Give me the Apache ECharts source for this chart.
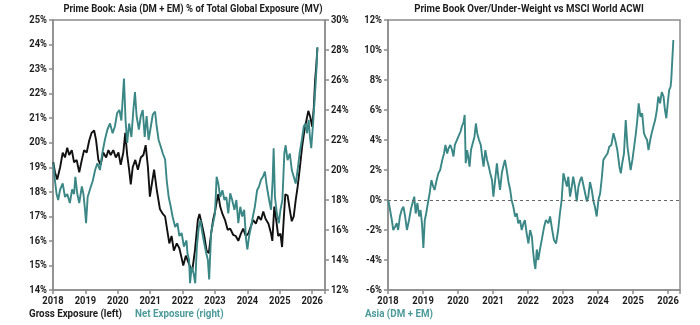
<!DOCTYPE html>
<html>
<head>
<meta charset="utf-8">
<script src="https://cdn.jsdelivr.net/npm/echarts@6/dist/echarts.min.js"></script>
<style>
  html, body { margin: 0; padding: 0; background: #fff; }
  #chart { width: 700px; height: 325px; }
</style>
</head>
<body>
<div id="chart"></div>
<script>
// Prime book Asia exposure, [decimal year, %]
const grossExposure = [
  [2018.01,19.2],[2018.06,18.8],[2018.13,18.5],[2018.22,19.0],[2018.30,19.6],[2018.37,19.4],[2018.44,19.8],
  [2018.50,19.5],[2018.58,19.7],[2018.65,19.2],[2018.73,19.3],[2018.81,18.8],[2018.89,19.3],[2018.96,19.7],
  [2019.04,19.6],[2019.12,20.1],[2019.19,20.4],[2019.27,20.5],[2019.33,20.1],[2019.40,19.3],[2019.47,19.1],
  [2019.55,19.6],[2019.64,19.4],[2019.71,19.7],[2019.78,19.5],[2019.86,19.7],[2019.94,19.4],[2020.02,19.6],
  [2020.09,19.1],[2020.17,19.6],[2020.23,20.4],[2020.29,19.5],[2020.35,18.9],[2020.40,18.3],[2020.46,19.0],
  [2020.54,19.3],[2020.62,18.9],[2020.71,19.4],[2020.79,19.5],[2020.86,19.9],[2020.93,19.0],[2020.99,17.8],
  [2021.06,18.4],[2021.12,18.9],[2021.20,18.1],[2021.30,17.3],[2021.39,17.1],[2021.46,17.0],[2021.53,16.4],
  [2021.59,15.9],[2021.66,16.2],[2021.73,15.6],[2021.82,15.9],[2021.90,15.7],[2021.97,15.3],[2022.02,15.0],
  [2022.10,15.4],[2022.23,14.95],[2022.30,14.8],[2022.38,15.6],[2022.47,16.85],[2022.52,17.1],[2022.59,16.7],
  [2022.67,16.2],[2022.74,15.6],[2022.81,15.5],[2022.88,16.3],[2022.94,16.85],[2023.00,17.2],[2023.06,17.65],
  [2023.10,17.9],[2023.16,17.4],[2023.23,17.1],[2023.31,16.85],[2023.39,16.45],[2023.47,16.5],[2023.56,16.25],
  [2023.64,16.2],[2023.72,16.0],[2023.80,16.3],[2023.87,16.5],[2023.95,16.2],[2024.03,16.3],[2024.11,16.6],
  [2024.18,16.85],[2024.26,16.7],[2024.34,17.0],[2024.42,16.85],[2024.49,17.2],[2024.56,16.9],[2024.65,16.7],
  [2024.73,16.3],[2024.77,16.0],[2024.83,17.4],[2024.89,16.85],[2024.95,16.2],[2025.02,16.3],[2025.07,15.75],
  [2025.12,16.85],[2025.17,17.9],[2025.24,17.85],[2025.31,17.25],[2025.37,16.8],[2025.43,17.0],[2025.49,17.65],
  [2025.55,18.2],[2025.62,19.0],[2025.69,19.85],[2025.76,20.5],[2025.82,20.9],[2025.88,21.3],[2025.94,21.05],
  [2026.00,20.65],[2026.05,21.45],[2026.09,22.55],[2026.13,23.2],[2026.16,23.85]
];

const netExposure = [
  [2018.01,20.45],[2018.06,19.3],[2018.11,18.4],[2018.16,18.0],[2018.22,18.7],[2018.30,19.1],[2018.37,18.2],
  [2018.44,18.4],[2018.52,17.8],[2018.59,18.7],[2018.65,18.4],[2018.69,19.55],[2018.75,18.4],[2018.81,17.8],
  [2018.89,18.9],[2018.94,18.4],[2018.99,17.3],[2019.02,16.45],[2019.07,18.2],[2019.14,18.7],[2019.23,19.3],
  [2019.30,20.0],[2019.37,20.45],[2019.45,20.0],[2019.52,21.1],[2019.60,22.0],[2019.68,22.7],[2019.76,23.1],
  [2019.84,22.45],[2019.91,22.9],[2019.98,23.8],[2020.05,24.0],[2020.11,23.3],[2020.15,24.7],[2020.19,26.1],
  [2020.24,23.3],[2020.29,21.8],[2020.35,23.1],[2020.42,22.2],[2020.48,24.0],[2020.53,25.2],[2020.58,23.6],
  [2020.65,22.7],[2020.71,23.6],[2020.77,24.0],[2020.83,22.2],[2020.89,23.6],[2020.95,22.0],[2021.02,22.9],
  [2021.08,23.7],[2021.15,23.9],[2021.20,22.9],[2021.26,22.0],[2021.32,21.6],[2021.39,21.1],[2021.46,20.7],
  [2021.51,19.3],[2021.57,18.2],[2021.63,17.6],[2021.69,16.9],[2021.77,16.2],[2021.84,16.45],[2021.90,15.6],
  [2021.97,15.8],[2022.04,14.9],[2022.12,15.3],[2022.15,14.45],[2022.20,14.0],[2022.23,12.45],[2022.28,13.55],
  [2022.34,13.1],[2022.39,12.45],[2022.44,14.9],[2022.50,16.2],[2022.55,16.65],[2022.61,15.8],[2022.67,15.1],
  [2022.73,14.45],[2022.78,14.0],[2022.82,12.7],[2022.88,15.8],[2022.94,16.45],[2023.00,17.1],[2023.05,19.55],
  [2023.10,19.1],[2023.16,18.2],[2023.23,18.65],[2023.29,18.0],[2023.35,18.2],[2023.41,17.1],[2023.47,18.45],
  [2023.53,18.0],[2023.60,17.35],[2023.66,18.0],[2023.72,16.45],[2023.78,17.55],[2023.84,16.9],[2023.90,17.35],
  [2023.96,15.35],[2024.00,14.7],[2024.05,15.55],[2024.11,16.2],[2024.17,16.9],[2024.23,17.55],[2024.30,18.65],
  [2024.36,18.9],[2024.42,19.35],[2024.48,19.55],[2024.54,19.9],[2024.60,18.9],[2024.67,18.0],[2024.73,17.35],
  [2024.78,19.35],[2024.81,21.45],[2024.85,18.2],[2024.91,17.1],[2024.97,16.45],[2025.02,17.35],[2025.08,18.0],
  [2025.14,21.1],[2025.18,21.65],[2025.24,20.65],[2025.31,21.1],[2025.37,20.0],[2025.43,19.55],[2025.49,19.1],
  [2025.55,20.0],[2025.61,21.1],[2025.68,22.0],[2025.74,22.9],[2025.79,23.1],[2025.84,22.45],[2025.89,23.35],
  [2025.93,22.2],[2025.97,21.45],[2026.02,22.9],[2026.06,24.2],[2026.10,25.55],[2026.13,26.65],[2026.16,28.2]
];

// Over/under-weight of Asia (DM + EM) against MSCI World ACWI, [decimal year, %]
const asiaOverweight = [
  [2018.01,0.0],[2018.05,-0.55],[2018.11,-1.35],[2018.15,-2.0],[2018.20,-1.8],[2018.25,-1.55],[2018.29,-2.0],
  [2018.34,-1.1],[2018.39,-0.67],[2018.44,-0.45],[2018.49,-1.1],[2018.54,-2.0],[2018.60,-1.35],[2018.66,-0.55],
  [2018.71,-0.45],[2018.75,0.22],[2018.79,-0.9],[2018.84,-0.2],[2018.89,-1.1],[2018.93,-0.67],[2018.97,-1.55],
  [2019.01,-3.2],[2019.05,-1.35],[2019.09,-0.9],[2019.14,-0.2],[2019.19,0.45],[2019.24,1.33],[2019.29,0.9],
  [2019.33,0.67],[2019.39,1.33],[2019.44,1.78],[2019.49,2.0],[2019.55,2.67],[2019.60,3.1],[2019.64,3.67],
  [2019.69,3.1],[2019.73,3.45],[2019.78,3.67],[2019.83,3.33],[2019.87,2.9],[2019.91,3.67],[2019.96,3.78],
  [2020.01,4.22],[2020.07,4.55],[2020.11,4.9],[2020.16,5.2],[2020.19,5.67],[2020.22,2.45],[2020.26,3.33],
  [2020.29,2.9],[2020.33,2.22],[2020.37,3.33],[2020.42,3.78],[2020.47,4.22],[2020.51,5.1],[2020.55,4.44],
  [2020.60,4.0],[2020.65,3.67],[2020.69,2.9],[2020.73,2.22],[2020.78,3.33],[2020.83,2.67],[2020.88,2.22],
  [2020.92,1.78],[2020.97,1.33],[2021.01,0.22],[2021.06,1.33],[2021.11,2.45],[2021.15,1.55],[2021.20,0.67],
  [2021.25,1.78],[2021.29,2.22],[2021.34,2.67],[2021.39,2.0],[2021.44,1.22],[2021.49,0.67],[2021.53,0.0],
  [2021.58,-0.45],[2021.63,-1.1],[2021.68,-0.9],[2021.72,-1.55],[2021.77,-1.35],[2021.82,-2.0],[2021.87,-1.55],
  [2021.91,-1.35],[2021.96,-2.22],[2022.01,-2.9],[2022.06,-2.0],[2022.11,-2.45],[2022.14,-3.33],[2022.18,-4.2],
  [2022.21,-4.6],[2022.25,-3.3],[2022.29,-4.0],[2022.34,-3.3],[2022.39,-2.67],[2022.46,-1.78],[2022.51,-1.33],
  [2022.58,-1.55],[2022.63,-1.1],[2022.69,-2.0],[2022.74,-2.67],[2022.80,-2.9],[2022.86,-2.0],[2022.91,-0.9],
  [2022.96,0.0],[2023.01,1.78],[2023.06,1.33],[2023.11,0.9],[2023.15,1.55],[2023.20,0.22],[2023.25,0.9],
  [2023.29,1.55],[2023.34,0.9],[2023.39,-0.1],[2023.44,0.9],[2023.49,1.33],[2023.53,1.55],[2023.58,1.45],
  [2023.63,0.45],[2023.68,-0.1],[2023.72,0.22],[2023.77,1.2],[2023.82,0.67],[2023.87,-0.1],[2023.91,-0.45],
  [2023.96,-1.1],[2024.01,0.0],[2024.06,0.45],[2024.11,1.55],[2024.15,2.67],[2024.21,2.9],[2024.27,3.1],
  [2024.32,3.55],[2024.38,3.67],[2024.44,4.45],[2024.49,4.0],[2024.55,3.33],[2024.61,2.22],[2024.65,1.78],
  [2024.69,2.45],[2024.74,3.1],[2024.79,5.33],[2024.84,3.55],[2024.89,2.67],[2024.93,2.0],[2024.98,2.67],
  [2025.03,3.55],[2025.08,4.45],[2025.12,5.33],[2025.16,6.45],[2025.21,5.55],[2025.26,5.78],[2025.31,4.45],
  [2025.35,4.22],[2025.40,4.0],[2025.44,3.33],[2025.49,4.0],[2025.53,4.45],[2025.58,4.9],[2025.63,5.33],
  [2025.68,6.0],[2025.72,6.9],[2025.77,6.45],[2025.82,7.2],[2025.87,6.9],[2025.91,6.0],[2025.95,5.45],
  [2025.99,6.45],[2026.03,7.33],[2026.07,7.55],[2026.09,8.0],[2026.12,9.33],[2026.15,10.67]
];

// Tick labels
const yearTicks = [2018, 2019, 2020, 2021, 2022, 2023, 2024, 2025, 2026];
const grossTicks = [14, 15, 16, 17, 18, 19, 20, 21, 22, 23, 24, 25];
const netTicks = [12, 14, 16, 18, 20, 22, 24, 26, 28, 30];
const overweightTicks = [-6, -4, -2, 0, 2, 4, 6, 8, 10, 12];

const leftTitle = 'Prime Book: Asia (DM + EM) % of Total Global Exposure (MV)';
const rightTitle = 'Prime Book Over/Under-Weight vs MSCI World ACWI';
const grossName = 'Gross Exposure (left)';
const netName = 'Net Exposure (right)';
const asiaName = 'Asia (DM + EM)';

const TEAL = '#3a8786';
const TEAL_TEXT = '#4c9b9a';
const AXIS = '#8c8c8c';
const INK = '#1c1c1c';
const FONT = 'bold 11px Roboto';
const SQUEEZE = 0.85;   // horizontal squeeze to give a condensed face

function xAxis(gridIndex, max, show) {
  return {
    type: 'value', gridIndex, min: 2018, max, interval: 1, show,
    axisLine: { show: true, onZero: false, lineStyle: { color: AXIS, width: 1.5 } },
    axisTick: { show: true, length: 4, lineStyle: { color: AXIS, width: 1.5 } },
    axisLabel: { show: false },
    splitLine: { show: false }
  };
}
function yAxis(gridIndex, min, max, interval, position) {
  return {
    type: 'value', gridIndex, min, max, interval, position,
    axisLine: { show: true, onZero: false, lineStyle: { color: AXIS, width: 1.5 } },
    axisTick: { show: true, length: 4, lineStyle: { color: AXIS, width: 1.5 } },
    axisLabel: { show: false },
    splitLine: { show: false }
  };
}

const chart = echarts.init(document.getElementById('chart'), null, { renderer: 'canvas' });
chart.setOption({
  animation: false,
  backgroundColor: '#fff',
  grid: [
    { left: 53, right: 375, top: 20, bottom: 35, show: true, borderColor: AXIS, borderWidth: 1.5 },
    { left: 388, right: 20, top: 20, bottom: 35, show: true, borderColor: AXIS, borderWidth: 1.5 }
  ],
  xAxis: [ xAxis(0, 2026.395, true), xAxis(0, 2026.395, false), xAxis(1, 2026.34, true) ],
  yAxis: [
    yAxis(0, 14, 25, 1, 'left'),
    yAxis(0, 12, 30, 2, 'right'),
    yAxis(1, -6, 12, 2, 'left')
  ],
  series: [
    { name: grossName, type: 'line', xAxisIndex: 0, yAxisIndex: 0, data: grossExposure,
      showSymbol: false, lineStyle: { color: '#111', width: 1.9 }, itemStyle: { color: '#111' } },
    { name: netName, type: 'line', xAxisIndex: 1, yAxisIndex: 1, data: netExposure,
      showSymbol: false, lineStyle: { color: TEAL, width: 1.9 }, itemStyle: { color: TEAL } },
    { name: asiaName, type: 'line', xAxisIndex: 2, yAxisIndex: 2, data: asiaOverweight,
      showSymbol: false, lineStyle: { color: TEAL, width: 1.9 }, itemStyle: { color: TEAL },
      markLine: { silent: true, symbol: 'none', label: { show: false },
                  lineStyle: { color: '#666', type: [3, 3], width: 1 },
                  data: [ { yAxis: 0 } ] } }
  ]
});

// Condensed text: labels, titles and legends drawn as squeezed graphic text,
// placed through the axes' own value-to-pixel conversion.
function txt(text, x, y, align, vAlign, color, sx) {
  return {
    type: 'text', x, y, scaleX: sx || SQUEEZE, silent: true,
    style: { text, font: FONT, fill: color || INK,
             align, textAlign: align, verticalAlign: vAlign, textVerticalAlign: vAlign }
  };
}
const px = (finder, v) => chart.convertToPixel(finder, v);

const labels = [];
const leftBottom = px({ yAxisIndex: 0 }, 14);
const leftTop = px({ yAxisIndex: 0 }, 25);
const leftEdge = px({ xAxisIndex: 0 }, 2018);
const leftRight = px({ xAxisIndex: 0 }, 2026.395);
const rightBottom = px({ yAxisIndex: 2 }, -6);
const rightEdge = px({ xAxisIndex: 2 }, 2018);
const rightRight = px({ xAxisIndex: 2 }, 2026.34);

yearTicks.forEach(yr => {
  labels.push(txt(String(yr), px({ xAxisIndex: 0 }, yr), leftBottom + 6, 'center', 'top'));
  labels.push(txt(String(yr), px({ xAxisIndex: 2 }, yr), rightBottom + 6, 'center', 'top'));
});
grossTicks.forEach(v => labels.push(txt(v + '%', leftEdge - 6, px({ yAxisIndex: 0 }, v), 'right', 'middle')));
netTicks.forEach(v => labels.push(txt(v + '%', leftRight + 6, px({ yAxisIndex: 1 }, v), 'left', 'middle')));
overweightTicks.forEach(v => labels.push(txt(v + '%', rightEdge - 6, px({ yAxisIndex: 2 }, v), 'right', 'middle')));

// chart titles
labels.push(txt(leftTitle, (leftEdge + leftRight) / 2 + 4, leftTop - 11, 'center', 'middle', INK, 0.86));
labels.push(txt(rightTitle, (rightEdge + rightRight) / 2 - 5, leftTop - 11, 'center', 'middle', INK, 0.88));

// legends
labels.push(txt(grossName, 29, 314, 'left', 'middle', INK, 0.89));
labels.push(txt(netName, 135, 314, 'left', 'middle', TEAL_TEXT, 0.89));
labels.push(txt(asiaName, 365, 314, 'left', 'middle', TEAL_TEXT, 0.89));

chart.setOption({ graphic: labels });
</script>
</body>
</html>
